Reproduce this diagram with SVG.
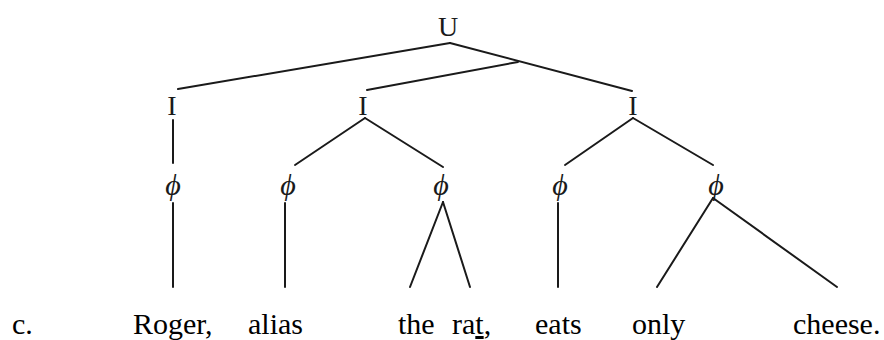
<svg xmlns="http://www.w3.org/2000/svg" width="884" height="340" viewBox="0 0 884 340">
<style>
text{font-family:'Liberation Serif','Times New Roman',Times,'DejaVu Serif',serif;fill:#1a1a1a}
.lbl{font-size:28px;text-anchor:middle}
.phi{font-size:30px;font-style:italic;text-anchor:middle}
.word{font-size:30px;fill:#000}
.e{stroke:#1a1a1a;stroke-width:2;fill:none;stroke-linecap:round}
</style>
<rect width="884" height="340" fill="#fff"/>
<g id="connectors">
<line class="e" x1="450" y1="43" x2="178" y2="89"/>
<line class="e" x1="450" y1="43" x2="632" y2="91"/>
<line class="e" x1="518" y1="62" x2="367" y2="90"/>
<line class="e" x1="173" y1="120" x2="173" y2="163"/>
<line class="e" x1="173" y1="203" x2="173" y2="287"/>
<line class="e" x1="365" y1="118" x2="295" y2="165"/>
<line class="e" x1="365" y1="118" x2="443" y2="167"/>
<line class="e" x1="285" y1="203" x2="285" y2="287"/>
<line class="e" x1="443" y1="202" x2="410" y2="287"/>
<line class="e" x1="443" y1="202" x2="470" y2="287"/>
<line class="e" x1="633" y1="118" x2="565" y2="165"/>
<line class="e" x1="633" y1="118" x2="713" y2="165"/>
<line class="e" x1="558" y1="203" x2="558" y2="287"/>
<line class="e" x1="713" y1="198" x2="657" y2="287"/>
<line class="e" x1="713" y1="198" x2="837" y2="287"/>
</g>
<g id="n-U"><text class="lbl" x="448" y="36" font-family="Liberation Serif">U</text></g>
<g id="n-I1"><text class="lbl" x="172" y="115">I</text></g>
<g id="n-I2"><text class="lbl" x="363" y="115">I</text></g>
<g id="n-I3"><text class="lbl" x="633" y="115">I</text></g>
<g id="n-phi1"><text class="phi" x="173" y="195">ϕ</text></g>
<g id="n-phi2"><text class="phi" x="288" y="195">ϕ</text></g>
<g id="n-phi3"><text class="phi" x="441" y="195">ϕ</text></g>
<g id="n-phi4"><text class="phi" x="560" y="195">ϕ</text></g>
<g id="n-phi5"><text class="phi" x="716" y="195">ϕ</text></g>
<g id="sentence">
<text class="word" x="12" y="334">c.</text>
<text class="word" x="133" y="334">Roger,</text>
<text class="word" x="248" y="334">alias</text>
<text class="word" x="398" y="334">the</text>
<text class="word" x="452" y="334">ra<tspan text-decoration="underline">t</tspan>,</text>
<text class="word" x="535" y="334">eats</text>
<text class="word" x="632" y="334">only</text>
<text class="word" x="793" y="334">cheese.</text>
</g>
</svg>
